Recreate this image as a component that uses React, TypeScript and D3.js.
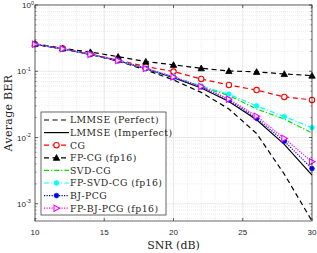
import * as d3 from "d3";

const snr = [10, 12, 14, 16, 18, 20, 22, 24, 26, 28, 30];

const lmmsePerfect = [0.255, 0.219, 0.18, 0.142, 0.105, 0.074, 0.048, 0.027, 0.0115, 0.0028, 0.00055];
const lmmseImperfect = [0.255, 0.218, 0.18, 0.144, 0.109, 0.08, 0.056, 0.035, 0.0185, 0.0079, 0.0027];
const cg = [0.255, 0.22, 0.182, 0.147, 0.118, 0.099, 0.0765, 0.062, 0.052, 0.041, 0.037];
const fpCg = [0.26, 0.222, 0.195, 0.166, 0.14, 0.125, 0.111, 0.101, 0.098, 0.091, 0.086];
const svdCg = [0.255, 0.218, 0.18, 0.145, 0.11, 0.082, 0.058, 0.043, 0.027, 0.019, 0.0117];
const fpSvdCg = [0.255, 0.218, 0.18, 0.145, 0.11, 0.083, 0.06, 0.045, 0.03, 0.0207, 0.0141];
const bjPcg = [0.255, 0.218, 0.18, 0.145, 0.11, 0.081, 0.058, 0.037, 0.0195, 0.0088, 0.0034];
const fpBjPcg = [0.255, 0.218, 0.18, 0.145, 0.11, 0.082, 0.059, 0.038, 0.021, 0.0097, 0.0043];

const xTicks = [10, 15, 20, 25, 30];
const yTicks = [0, -1, -2, -3];

type Series = {
  name: string;
  values: number[];
  color: string;
  dash: string;
  marker: "none" | "circleOpen" | "triangleUp" | "circle" | "triangleRight";
};

const series: Series[] = [
  { name: "LMMSE (Perfect)", values: lmmsePerfect, color: "#000000", dash: "5,3.5", marker: "none" },
  { name: "LMMSE (Imperfect)", values: lmmseImperfect, color: "#000000", dash: "", marker: "none" },
  { name: "CG", values: cg, color: "#ff0000", dash: "5,3.5", marker: "circleOpen" },
  { name: "FP-CG (fp16)", values: fpCg, color: "#000000", dash: "5,3.5", marker: "triangleUp" },
  { name: "SVD-CG", values: svdCg, color: "#00e000", dash: "5,2,1.2,2", marker: "none" },
  { name: "FP-SVD-CG (fp16)", values: fpSvdCg, color: "#00ffff", dash: "5,2,1.2,2", marker: "circle" },
  { name: "BJ-PCG", values: bjPcg, color: "#0000ff", dash: "1.2,1.3", marker: "circle" },
  { name: "FP-BJ-PCG (fp16)", values: fpBjPcg, color: "#ff00ff", dash: "1.2,1.3", marker: "triangleRight" },
];

const W = 317;
const H = 253;
const left = 35;
const right = 312;
const top = 5;
const bottom = 221;

function Marker({ kind, x, y, color }: { kind: Series["marker"]; x: number; y: number; color: string }) {
  if (kind === "none") return null;
  if (kind === "circleOpen")
    return <circle cx={x} cy={y} r={2.7} fill="white" stroke={color} strokeWidth={1.1} />;
  if (kind === "circle") return <circle cx={x} cy={y} r={2.4} fill={color} stroke={color} strokeWidth={0.6} />;
  if (kind === "triangleUp") {
    const s = 3.2;
    return (
      <path
        d={`M${x},${y - s} L${x + s},${y + s * 0.8} L${x - s},${y + s * 0.8} Z`}
        fill={color}
        stroke={color}
        strokeWidth={0.8}
      />
    );
  }
  const s = 3.1;
  return (
    <path
      d={`M${x + s},${y} L${x - s * 0.8},${y - s} L${x - s * 0.8},${y + s} Z`}
      fill="white"
      stroke={color}
      strokeWidth={1.1}
    />
  );
}

export default function App() {
  const x = d3.scaleLinear().domain([10, 30]).range([left, right]);
  const y = d3.scaleLog().domain([5.5e-4, 1]).range([bottom, top]);

  const line = d3
    .line<number>()
    .x((_, i) => x(snr[i]))
    .y((d) => y(d));

  const minorX = d3.range(10, 31, 1).filter((v) => v % 5 !== 0);
  const minorY: number[] = [];
  for (let e = -4; e < 0; e++) {
    for (let m = 2; m <= 9; m++) {
      const v = m * Math.pow(10, e);
      if (v >= 5.5e-4 && v < 1) minorY.push(v);
    }
  }

  const legX = 41;
  const legY = 112;
  const legW = 125;
  const legH = 103;
  const rowH = 12.6;

  return (
    <div style={{ position: "fixed", left: 0, top: 0 }}>
      <svg width={W} height={H} style={{ display: "block", background: "white" }}>
        <defs>
          <clipPath id="plot-clip">
            <rect x={left} y={top} width={right - left} height={bottom - top} />
          </clipPath>
        </defs>

        {/* grid */}
        {minorX.map((v) => (
          <line key={"mx" + v} x1={x(v)} x2={x(v)} y1={top} y2={bottom} stroke="#e3e3e3" strokeWidth={0.6} strokeDasharray="1,1" />
        ))}
        {minorY.map((v) => (
          <line key={"my" + v} x1={left} x2={right} y1={y(v)} y2={y(v)} stroke="#e3e3e3" strokeWidth={0.6} strokeDasharray="1,1" />
        ))}
        {xTicks.map((v) => (
          <line key={"gx" + v} x1={x(v)} x2={x(v)} y1={top} y2={bottom} stroke="#dcdcdc" strokeWidth={0.6} />
        ))}
        {yTicks.map((e) => (
          <line key={"gy" + e} x1={left} x2={right} y1={y(Math.pow(10, e))} y2={y(Math.pow(10, e))} stroke="#dcdcdc" strokeWidth={0.6} />
        ))}

        {/* curves */}
        <g clipPath="url(#plot-clip)">
          {series.map((s) => (
            <path
              key={s.name}
              d={line(s.values) || ""}
              fill="none"
              stroke={s.color}
              strokeWidth={1.2}
              strokeDasharray={s.dash || undefined}
            />
          ))}
        </g>
        {series.map((s) =>
          s.values.map((v, i) => (
            <Marker key={s.name + i} kind={s.marker} x={x(snr[i])} y={y(v)} color={s.color} />
          ))
        )}

        {/* axes box */}
        <rect x={left} y={top} width={right - left} height={bottom - top} fill="none" stroke="#262626" strokeWidth={0.7} />
        {xTicks.map((v) => (
          <g key={"tx" + v}>
            <line x1={x(v)} x2={x(v)} y1={bottom} y2={bottom - 3} stroke="#262626" strokeWidth={0.7} />
            <line x1={x(v)} x2={x(v)} y1={top} y2={top + 3} stroke="#262626" strokeWidth={0.7} />
            <text x={x(v)} y={235} textAnchor="middle" fontFamily="Liberation Sans, Arial, sans-serif" fontSize={8} fill="#262626">
              {v}
            </text>
          </g>
        ))}
        {minorY.map((v) => (
          <g key={"tmy" + v}>
            <line x1={left} x2={left + 1.5} y1={y(v)} y2={y(v)} stroke="#262626" strokeWidth={0.5} />
            <line x1={right} x2={right - 1.5} y1={y(v)} y2={y(v)} stroke="#262626" strokeWidth={0.5} />
          </g>
        ))}
        {yTicks.map((e) => (
          <g key={"ty" + e}>
            <line x1={left} x2={left + 3} y1={y(Math.pow(10, e))} y2={y(Math.pow(10, e))} stroke="#262626" strokeWidth={0.7} />
            <line x1={right} x2={right - 3} y1={y(Math.pow(10, e))} y2={y(Math.pow(10, e))} stroke="#262626" strokeWidth={0.7} />
            <text x={e === 0 ? 22 : 17} y={y(Math.pow(10, e)) + 3} fontFamily="Liberation Sans, Arial, sans-serif" fontSize={8} fill="#262626">
              10
              <tspan dy={-3.5} fontSize={5.5}>
                {e === 0 ? "0" : "-" + -e}
              </tspan>
            </text>
          </g>
        ))}

        {/* axis labels */}
        <text x={(left + right) / 2} y={249} textAnchor="middle" fontFamily="DejaVu Serif, serif" fontSize={11} fill="#262626">
          SNR (dB)
        </text>
        <text
          transform={`translate(12, ${(top + bottom) / 2}) rotate(-90)`}
          textAnchor="middle"
          fontFamily="DejaVu Serif, serif"
          fontSize={11}
          letterSpacing={0.3}
          fill="#262626"
        >
          Average BER
        </text>

        {/* legend */}
        <rect x={legX} y={legY} width={legW} height={legH} fill="white" stroke="#262626" strokeWidth={0.7} />
        {series.map((s, i) => {
          const cy = legY + 8 + i * rowH;
          return (
            <g key={"leg" + s.name}>
              <line x1={legX + 3} x2={legX + 28} y1={cy} y2={cy} stroke={s.color} strokeWidth={1.2} strokeDasharray={s.dash || undefined} />
              <Marker kind={s.marker} x={legX + 15.5} y={cy} color={s.color} />
              <text x={legX + 29} y={cy + 3.3} fontFamily="DejaVu Serif, serif" fontSize={9.3} letterSpacing={0.45} fill="#262626">
                {s.name}
              </text>
            </g>
          );
        })}
      </svg>
    </div>
  );
}
